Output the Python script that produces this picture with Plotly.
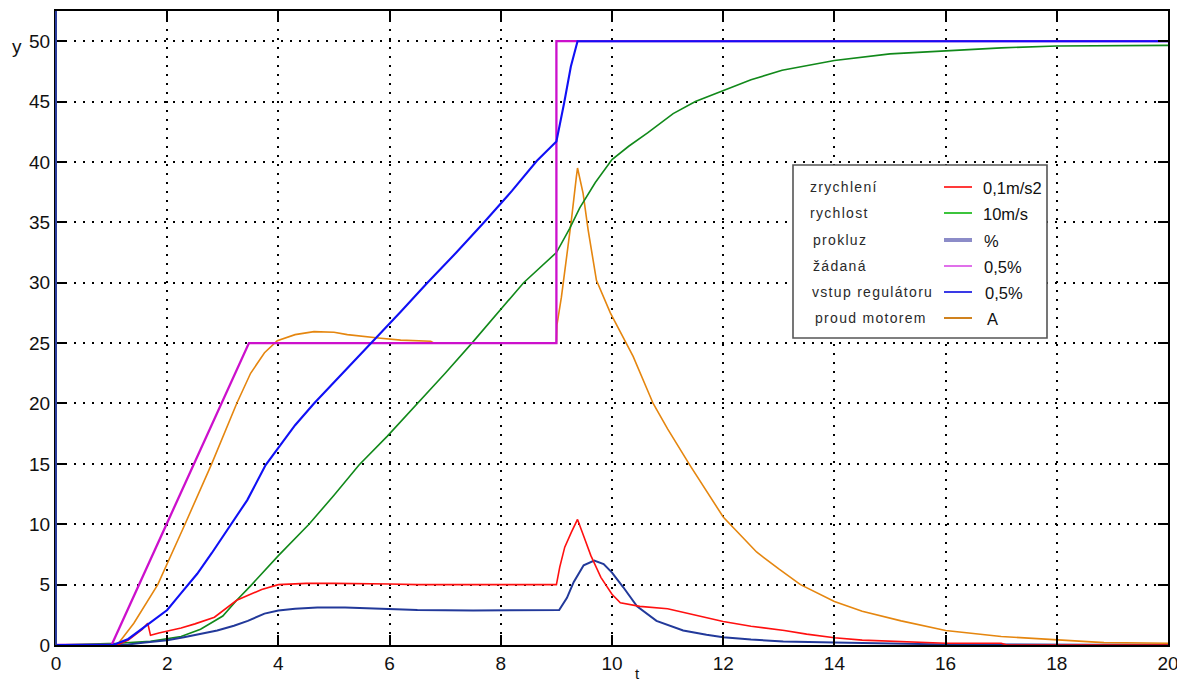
import plotly.graph_objects as go

# ---------------- data ----------------
t_red = [0, 1.1, 1.3, 1.45, 1.55, 1.65, 1.7, 1.85, 2.0, 2.25, 2.5, 2.85, 3.25, 3.5, 3.7, 4.0, 4.5, 5.0,
         5.5, 6.0, 6.5, 7.0, 8.0, 9.0, 9.06, 9.15, 9.27, 9.38, 9.5, 9.62, 9.8, 10.0, 10.15, 10.5, 11.0,
         11.5, 12.0, 12.5, 13.1, 13.5, 14.0, 14.5, 15.0, 15.5, 16.0, 17.0, 17.1, 20.0]
zrychleni = [0, 0, 0.4, 0.95, 1.3, 1.8, 0.8, 1.0, 1.15, 1.4, 1.75, 2.3, 3.7, 4.2, 4.6, 5.0, 5.1, 5.1,
             5.1, 5.05, 5.0, 5.0, 5.0, 5.0, 6.45, 8.1, 9.35, 10.4, 8.9, 7.4, 5.6, 4.2, 3.5, 3.2, 3.0,
             2.5, 1.95, 1.55, 1.2, 0.9, 0.6, 0.4, 0.3, 0.2, 0.15, 0.15, 0.0, 0.0]

t_green = [0, 1.1, 1.7, 2.0, 2.25, 2.6, 3.0, 3.25, 3.5, 4.0, 4.55, 5.0, 5.45, 5.96, 6.5, 7.0, 7.48, 8.0,
           8.41, 9.0, 9.24, 9.42, 9.7, 10.0, 10.3, 10.64, 11.1, 11.5, 12.0, 12.5, 13.06, 13.5, 14.0,
           15.0, 16.0, 17.0, 18.0, 19.0, 20.0]
rychlost = [0, 0.15, 0.3, 0.5, 0.7, 1.3, 2.4, 3.7, 4.9, 7.4, 10.0, 12.4, 14.9, 17.3, 20.0, 22.5, 25.0,
            27.8, 30.0, 32.5, 34.5, 36.2, 38.3, 40.2, 41.3, 42.4, 44.0, 45.0, 45.9, 46.8, 47.6, 48.0,
            48.4, 48.95, 49.2, 49.45, 49.6, 49.65, 49.65]

t_navy = [0, 1.3, 1.6, 2.0, 2.3, 2.6, 2.9, 3.2, 3.45, 3.75, 4.0, 4.3, 4.7, 5.2, 5.7, 6.5, 7.5, 9.0, 9.05,
          9.19, 9.31, 9.49, 9.68, 9.85, 10.0, 10.2, 10.45, 10.8, 11.28, 11.7, 12.0, 12.5, 13.08, 14.0,
          15.0, 16.0, 20.0]
prokluz = [0, 0.05, 0.2, 0.4, 0.65, 0.9, 1.2, 1.6, 2.0, 2.6, 2.85, 3.0, 3.1, 3.1, 3.0, 2.9, 2.85, 2.85,
           2.9, 3.9, 5.2, 6.6, 7.0, 6.7, 6.0, 4.8, 3.2, 2.0, 1.2, 0.85, 0.65, 0.45, 0.3, 0.2, 0.1, 0.05, 0.0]

t_mag = [0, 1.0, 3.47, 9.0, 9.0, 20.0]
zadana = [0, 0, 25, 25, 50, 50]

t_blue = [0, 1.03, 1.3, 1.5, 1.63, 2.0, 2.25, 2.54, 2.8, 3.08, 3.44, 3.77, 4.0, 4.3, 4.64, 4.93, 5.3,
          5.72, 6.2, 6.68, 7.2, 7.7, 8.2, 8.65, 9.0, 9.14, 9.26, 9.38, 20.0]
vstup = [0, 0, 0.5, 1.2, 1.6, 2.9, 4.3, 5.9, 7.6, 9.5, 12.0, 14.9, 16.3, 18.2, 20.0, 21.4, 23.2, 25.2,
         27.6, 30.0, 32.5, 35.0, 37.6, 40.1, 41.7, 44.9, 47.9, 50.0, 50.0]

t_orange = [0, 1.1, 1.4, 1.83, 2.32, 2.8, 3.25, 3.5, 3.75, 3.98, 4.3, 4.64, 5.0, 5.24, 5.84, 6.2, 6.74,
            6.8, 9.0, 9.01, 9.09, 9.18, 9.27, 9.36, 9.38, 9.48, 9.57, 9.72, 9.97, 10.38, 10.74, 11.0,
            11.4, 12.0, 12.6, 13.0, 13.39, 14.0, 14.5, 15.2, 16.0, 17.0, 18.0, 18.85, 20.0]
proud = [0, 0, 1.8, 5.0, 10.0, 15.0, 20.0, 22.5, 24.2, 25.2, 25.7, 25.95, 25.9, 25.7, 25.4, 25.25, 25.15,
         25.0, 25.0, 26.5, 28.8, 31.9, 35.2, 38.8, 39.5, 37.4, 34.4, 30.2, 27.5, 23.9, 20.0, 17.9,
         14.9, 10.6, 7.7, 6.3, 5.0, 3.6, 2.8, 2.0, 1.2, 0.7, 0.4, 0.2, 0.15]

x_ticks = [0, 2, 4, 6, 8, 10, 12, 14, 16, 18, 20]
y_ticks = [0, 5, 10, 15, 20, 25, 30, 35, 40, 45, 50]

legend_names = ["zrychlení", "rychlost", "prokluz", "žádaná", "vstup regulátoru", "proud motorem"]
legend_units = ["0,1m/s2", "10m/s", "%", "0,5%", "0,5%", "A"]
legend_colors = ["#ff3a3a", "#3cc43c", "#8c8cc8", "#e070ea", "#3a3ae6", "#d0821e"]

# ---------------- figure ----------------
# the page body adds an 8px offset; the figure is sized so the plot area lands at page (56, 11)
OFF = 8
W, H = 1185 - OFF, 684 - OFF
L, T, PW, PH = 56, 11, 1112, 634   # page coordinates of the plot area


def px(x):
    return (x - L) / PW


def py(y):
    return (T + PH - y) / PH


fig = go.Figure()
fig.add_trace(go.Scatter(x=t_orange, y=proud, mode="lines", line=dict(color="#e5860f", width=1.6),
                         name="proud motorem", hoverinfo="skip"))
fig.add_trace(go.Scatter(x=t_green, y=rychlost, mode="lines", line=dict(color="#11891a", width=1.6),
                         name="rychlost", hoverinfo="skip"))
fig.add_trace(go.Scatter(x=t_navy, y=prokluz, mode="lines", line=dict(color="#22399a", width=2.0),
                         name="prokluz", hoverinfo="skip"))
fig.add_trace(go.Scatter(x=t_red, y=zrychleni, mode="lines", line=dict(color="#ff1010", width=1.6),
                         name="zrychlení", hoverinfo="skip"))
fig.add_trace(go.Scatter(x=t_mag, y=zadana, mode="lines", line=dict(color="#cc10cc", width=2.3),
                         name="žádaná", hoverinfo="skip"))
fig.add_trace(go.Scatter(x=t_blue, y=vstup, mode="lines", line=dict(color="#1010f5", width=2.1),
                         name="vstup regulátoru", hoverinfo="skip"))

axis_common = dict(
    showgrid=True, gridcolor="#000000", gridwidth=1.6, griddash="2px,7px",
    showline=True, linecolor="#000000", linewidth=2, mirror="ticks",
    ticks="inside", ticklen=10, tickwidth=2, tickcolor="#000000",
    zeroline=False, automargin=False,
    tickfont=dict(family="Liberation Sans, Arial, sans-serif", size=19, color="#111111"),
)

fig.update_xaxes(range=[0, 20], tickvals=x_ticks, ticktext=[str(v) for v in x_ticks],
                 ticklabelstandoff=0, **axis_common)
fig.update_yaxes(range=[0, 52.5], tickvals=y_ticks, ticktext=[str(v) for v in y_ticks],
                 ticklabelstandoff=0, **axis_common)

shapes = []
annotations = []

# left frame edge (bluish in the reference)
shapes.append(dict(type="line", xref="paper", yref="paper", x0=0, x1=0, y0=0, y1=1,
                   line=dict(color="#2a3c9c", width=2), layer="above"))

# legend box
shapes.append(dict(type="rect", xref="paper", yref="paper", x0=px(793), x1=px(1047), y0=py(338), y1=py(165),
                   fillcolor="#ffffff", line=dict(color="#555555", width=1.6), layer="above"))

name_x = [808, 808, 811, 811, 810, 813]
row_y = [187, 213, 240, 266, 292, 318]
unit_x = [981, 981, 982, 982, 983, 985]
for i, (nm, un, col) in enumerate(zip(legend_names, legend_units, legend_colors)):
    shapes.append(dict(type="line", xref="paper", yref="paper", x0=px(944), x1=px(972),
                       y0=py(row_y[i]), y1=py(row_y[i]),
                       line=dict(color=col, width=4 if i == 2 else 2), layer="above"))
    annotations.append(dict(xref="paper", yref="paper", x=px(name_x[i]), y=py(row_y[i]),
                            xanchor="left", yanchor="middle", showarrow=False,
                            text='<span style="letter-spacing:1.3px">' + nm + '</span>',
                            font=dict(family="Liberation Sans, Arial, sans-serif", size=14, color="#2a2a2a")))
    annotations.append(dict(xref="paper", yref="paper", x=px(unit_x[i]), y=py(row_y[i] + 1),
                            xanchor="left", yanchor="middle", showarrow=False, text=un,
                            font=dict(family="Liberation Sans, Arial, sans-serif", size=16.5, color="#111111")))

# axis labels
annotations.append(dict(xref="paper", yref="paper", x=px(17), y=py(47), xanchor="center", yanchor="middle",
                        showarrow=False, text="y",
                        font=dict(family="Liberation Sans, Arial, sans-serif", size=19, color="#111111")))
annotations.append(dict(xref="paper", yref="paper", x=px(637), y=py(673), xanchor="center", yanchor="middle",
                        showarrow=False, text="t",
                        font=dict(family="Liberation Sans, Arial, sans-serif", size=15, color="#111111")))

fig.update_layout(
    width=W, height=H,
    margin=dict(l=L - OFF, r=W - (L - OFF) - PW, t=T - OFF, b=H - (T - OFF) - PH, pad=0),
    paper_bgcolor="#ffffff", plot_bgcolor="#ffffff",
    showlegend=False,
    shapes=shapes, annotations=annotations,
)

fig.write_html("out.html", config={"displayModeBar": False})
